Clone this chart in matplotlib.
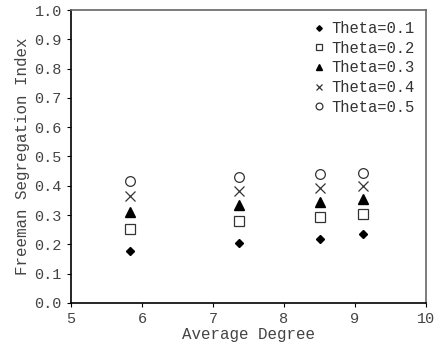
#!/usr/bin/env python

import numpy as np
import matplotlib
matplotlib.use('Agg')
import matplotlib.pyplot as plt

plt.rcParams['font.family'] = ['Liberation Mono', 'DejaVu Sans Mono']

degree = [5.83, 7.36, 8.51, 9.11]
theta01 = [0.177, 0.205, 0.218, 0.235]
theta02 = [0.253, 0.280, 0.293, 0.304]
theta03 = [0.310, 0.334, 0.345, 0.355]
theta04 = [0.365, 0.382, 0.392, 0.400]
theta05 = [0.416, 0.430, 0.440, 0.442]

fig = plt.figure(figsize=(4.41, 3.47), dpi=100)
ax = fig.add_axes([0.161, 0.127, 0.805, 0.844])

ax.plot(degree, theta01, 'D', color='black', ms=4, ls='none', label='Theta=0.1')
ax.plot(degree, theta02, 's', mfc='white', mec='#333333', mew=0.9, ms=6.5, ls='none', label='Theta=0.2')
ax.plot(degree, theta03, '^', color='black', ms=6.5, ls='none', label='Theta=0.3')
ax.plot(degree, theta04, 'x', color='#333333', mew=0.9, ms=6.5, ls='none', label='Theta=0.4')
ax.plot(degree, theta05, 'o', mfc='white', mec='#333333', mew=0.9, ms=7, ls='none', label='Theta=0.5')

ax.set_xlim(5, 10)
ax.set_ylim(0, 1.0)
ax.set_xticks(np.arange(5, 11, 1))
ax.set_yticks(np.arange(0, 1.01, 0.1))
ax.set_yticklabels(['%.1f' % v for v in np.arange(0, 1.01, 0.1)])
ax.tick_params(direction='out', length=3, labelsize=11, colors='black', labelcolor='#444444')
ax.set_xlabel('Average Degree', fontsize=11.4, color='#444444', labelpad=1)
ax.set_ylabel('Freeman Segregation Index', fontsize=11.4, color='#444444', labelpad=3)

for s in ['top', 'right']:
    ax.spines[s].set_color('#666666')
    ax.spines[s].set_linewidth(1.2)
for s in ['left', 'bottom']:
    ax.spines[s].set_linewidth(1.2)

leg = ax.legend(loc='upper right', frameon=False, fontsize=11.2, handlelength=0.8,
                handletextpad=0.4, labelspacing=0.3, borderaxespad=0.3)
for t in leg.get_texts():
    t.set_color('#333333')
for h in leg.legend_handles:
    h.set_markersize(h.get_markersize() * 0.7)

fig.savefig('out.png', dpi=100)
